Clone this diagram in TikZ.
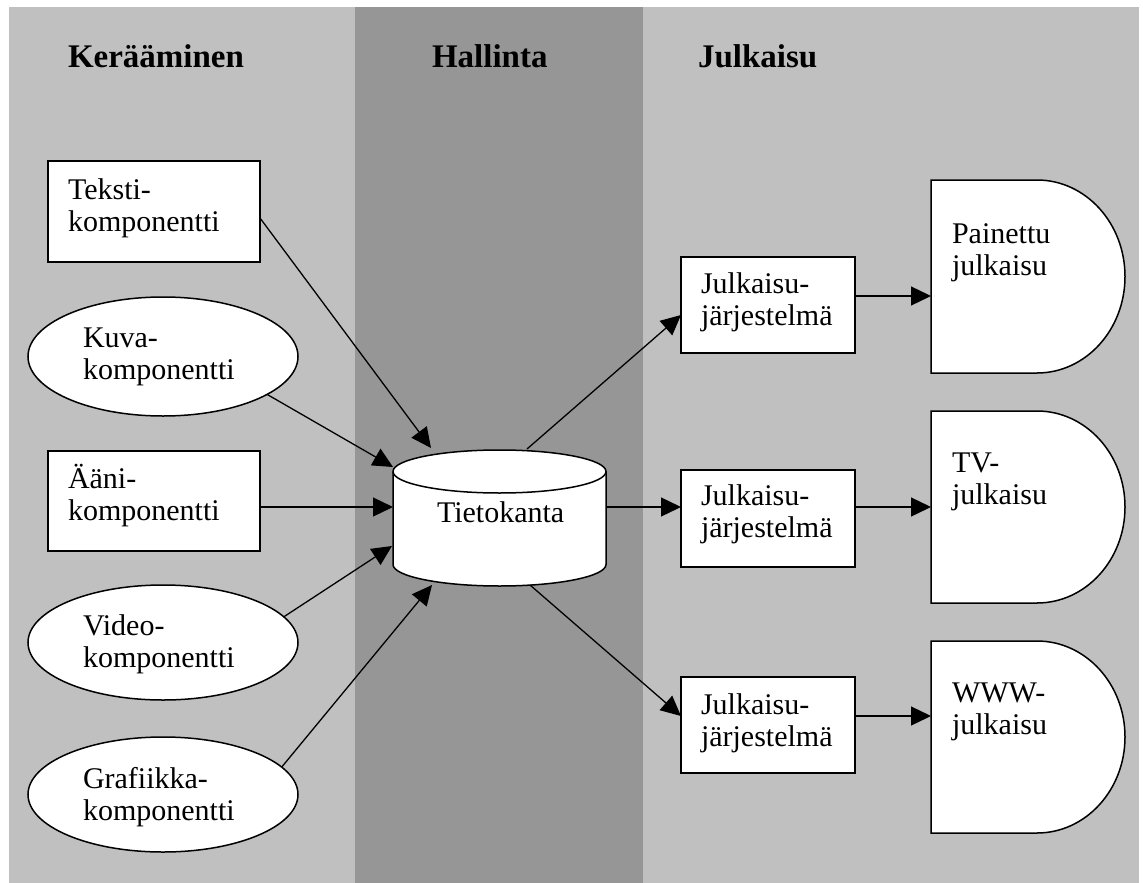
\documentclass[tikz,border=0pt]{standalone}
\usepackage{fontspec}
\setmainfont{Liberation Serif}
\usetikzlibrary{arrows.meta,shapes.geometric,calc}
\definecolor{paneLight}{RGB}{192,192,192}
\definecolor{paneDark}{RGB}{150,150,150}
% two-line label: name, x, first baseline, line 1, line 2
\newcommand\twolines[5]{%
  \node[lbl] (#1a) at (#2,#3) {#4};
  \node[lbl] (#1b) at (#2,#3+32) {#5};}
% D-shaped output symbol drawn over an invisible frame node
\newcommand\dsymbol[2]{%
  \draw[outline] (#1.north west) -- ([xshift=-88pt]#1.north east)
    arc[start angle=90,end angle=-90,x radius=88pt,y radius=#2pt]
    -- (#1.south west) -- cycle;}
\begin{document}
\begin{tikzpicture}[x=1pt,y=-1pt,
  lbl/.style={anchor=base west,inner sep=0pt,outer sep=0pt,font=\fontsize{30}{32}\selectfont},
  head/.style={anchor=base west,inner sep=0pt,outer sep=0pt,font=\bfseries\fontsize{33}{36}\selectfont},
  boxnode/.style={draw,fill=white,line width=1.5pt,rectangle,inner sep=0pt,outer sep=0pt},
  ellnode/.style={draw,fill=white,line width=1.5pt,ellipse,inner sep=0pt,outer sep=0pt,minimum width=270pt},
  frame/.style={rectangle,inner sep=0pt,outer sep=0pt},
  outline/.style={draw,fill=white,line width=1.5pt},
  link/.style={line width=1.3pt,-{Triangle[length=20pt,width=19pt]}},
]
\useasboundingbox (0,0) rectangle (1143,883);
\fill[white] (0,0) rectangle (1143,883);

% three columns
\fill[paneLight] (9,7) rectangle (1139,883);
\fill[paneDark] (355,7) rectangle (643,883);

% column headings
\node[head] (hKer) at (68,67) {Kerääminen};
\node[head] (hHal) at (432,67) {Hallinta};
\node[head] (hJul) at (698,67) {Julkaisu};

% source components
\node[boxnode,minimum width=212pt,minimum height=101pt] (teksti) at (154,211.5) {};
\node[ellnode,minimum height=119pt] (kuva) at (163,356.5) {};
\node[boxnode,minimum width=212pt,minimum height=100pt] (aani) at (154,501) {};
\node[ellnode,minimum height=115pt] (video) at (163,642.5) {};
\node[ellnode,minimum height=115pt] (grafiikka) at (163,794.5) {};

% database cylinder
\node[frame,minimum width=213pt,minimum height=136pt] (db) at (499.5,518) {};
\draw[outline] ([yshift=-21.5pt]db.north west) -- ([yshift=21.5pt]db.south west)
  arc[start angle=180,end angle=360,x radius=106.5pt,y radius=21.5pt]
  -- ([yshift=-21.5pt]db.north east)
  arc[start angle=0,end angle=180,x radius=106.5pt,y radius=21.5pt] -- cycle;
\draw[line width=1.5pt] ([yshift=-21.5pt]db.north west)
  arc[start angle=180,end angle=360,x radius=106.5pt,y radius=21.5pt];

% publishing systems
\node[boxnode,minimum width=174pt,minimum height=96pt] (pub1) at (768,305) {};
\node[boxnode,minimum width=174pt,minimum height=97pt] (pub2) at (768,518.5) {};
\node[boxnode,minimum width=174pt,minimum height=96pt] (pub3) at (768,725) {};

% publications
\node[frame,minimum width=194pt,minimum height=193pt] (out1) at (1028,276.5) {};
\node[frame,minimum width=194pt,minimum height=192pt] (out2) at (1028,507) {};
\node[frame,minimum width=194pt,minimum height=192pt] (out3) at (1028,737) {};
\dsymbol{out1}{96.5}
\dsymbol{out2}{96}
\dsymbol{out3}{96}

% labels
\twolines{tk}{68}{199}{Teksti-}{komponentti}
\twolines{kv}{83}{347}{Kuva-}{komponentti}
\twolines{aa}{68}{488}{Ääni-}{komponentti}
\twolines{vd}{83}{635}{Video-}{komponentti}
\twolines{gr}{83}{788}{Grafiikka-}{komponentti}
\node[lbl] (dbtext) at (437,522) {Tietokanta};
\twolines{pa}{701}{293}{Julkaisu-}{järjestelmä}
\twolines{pb}{701}{505}{Julkaisu-}{järjestelmä}
\twolines{pc}{701}{714}{Julkaisu-}{järjestelmä}
\twolines{oa}{952}{243}{Painettu}{julkaisu}
\twolines{ob}{952}{472}{TV-}{julkaisu}
\twolines{oc}{952}{702}{WWW-}{julkaisu}

% collection into the database
\draw[link] ([yshift=-6.5pt]teksti.east) -- ($(db.north west)+(38,-2)$);
\draw[link] (kuva.-20) -- ($(db.north west)+(0,17)$);
\draw[link] ([yshift=-6pt]aani.east) -- ([yshift=11pt]db.west);
\draw[link] (video.12) -- ($(db.west)+(-1,28)$);
\draw[link] (grafiikka.13) -- ($(db.south west)+(39,-1)$);

% database to publishing systems
\draw[link] ($(db.north west)+(134,-1)$) -- ([yshift=-10pt]pub1.west);
\draw[link] ([yshift=11pt]db.east) -- ([yshift=11.5pt]pub2.west);
\draw[link] ($(db.south west)+(137,-1)$) -- ([yshift=9pt]pub3.west);

% publishing systems to publications
\draw[link] ([yshift=9pt]pub1.east) -- ([yshift=-19.5pt]out1.west);
\draw[link] ([yshift=11.5pt]pub2.east) -- (out2.west);
\draw[link] ([yshift=9pt]pub3.east) -- ([yshift=21pt]out3.west);
\end{tikzpicture}
\end{document}
